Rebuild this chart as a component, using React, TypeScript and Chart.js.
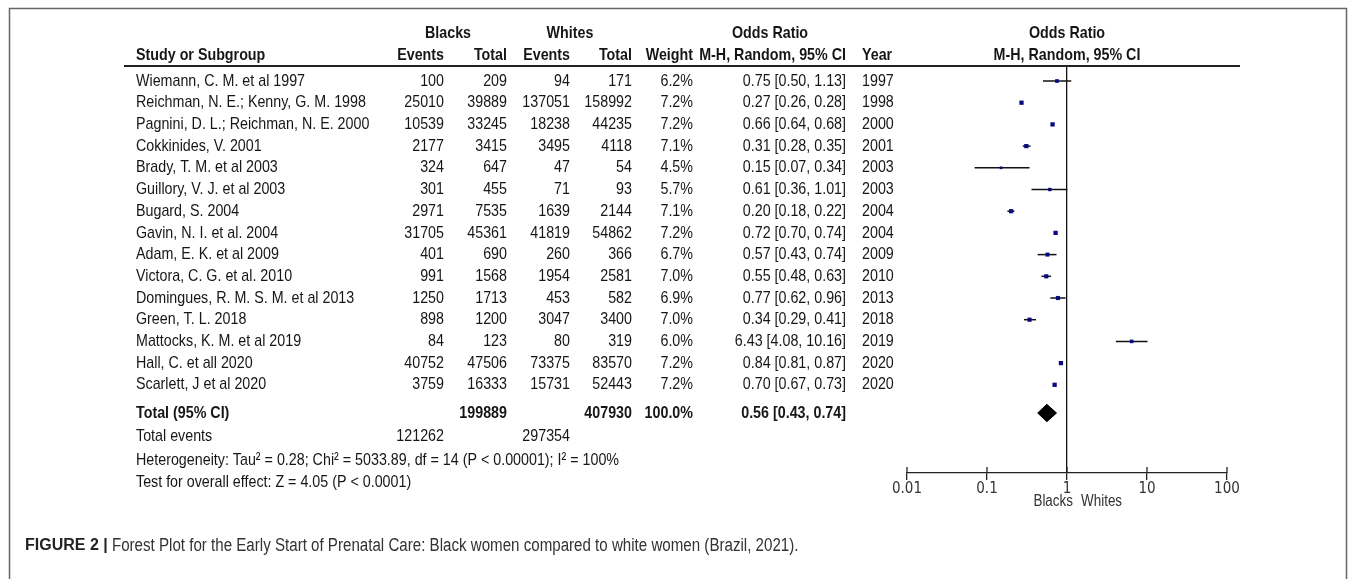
import React, { useEffect, useRef } from "react";
import { Chart, registerables } from "chart.js";

Chart.register(...registerables);

const studies = [
  "Wiemann, C. M. et al 1997",
  "Reichman, N. E.; Kenny, G. M. 1998",
  "Pagnini, D. L.; Reichman, N. E. 2000",
  "Cokkinides, V. 2001",
  "Brady, T. M. et al 2003",
  "Guillory, V. J. et al 2003",
  "Bugard, S. 2004",
  "Gavin, N. I. et al. 2004",
  "Adam, E. K. et al 2009",
  "Victora, C. G. et al. 2010",
  "Domingues, R. M. S. M. et al 2013",
  "Green, T. L. 2018",
  "Mattocks, K. M. et al 2019",
  "Hall, C. et all 2020",
  "Scarlett, J et al 2020",
];
const blackEvents = [100, 25010, 10539, 2177, 324, 301, 2971, 31705, 401, 991, 1250, 898, 84, 40752, 3759];
const blackTotals = [209, 39889, 33245, 3415, 647, 455, 7535, 45361, 690, 1568, 1713, 1200, 123, 47506, 16333];
const whiteEvents = [94, 137051, 18238, 3495, 47, 71, 1639, 41819, 260, 1954, 453, 3047, 80, 73375, 15731];
const whiteTotals = [171, 158992, 44235, 4118, 54, 93, 2144, 54862, 366, 2581, 582, 3400, 319, 83570, 52443];
const weights = [6.2, 7.2, 7.2, 7.1, 4.5, 5.7, 7.1, 7.2, 6.7, 7.0, 6.9, 7.0, 6.0, 7.2, 7.2];
const orEst = [0.75, 0.27, 0.66, 0.31, 0.15, 0.61, 0.2, 0.72, 0.57, 0.55, 0.77, 0.34, 6.43, 0.84, 0.7];
const orLow = [0.5, 0.26, 0.64, 0.28, 0.07, 0.36, 0.18, 0.7, 0.43, 0.48, 0.62, 0.29, 4.08, 0.81, 0.67];
const orHigh = [1.13, 0.28, 0.68, 0.35, 0.34, 1.01, 0.22, 0.74, 0.74, 0.63, 0.96, 0.41, 10.16, 0.87, 0.73];
const years = [1997, 1998, 2000, 2001, 2003, 2003, 2004, 2004, 2009, 2010, 2013, 2018, 2019, 2020, 2020];

const totalSizes = [199889, 407930];
const totalWeight = [100.0];
const totalOR = [0.56, 0.43, 0.74];
const totalEvents = [121262, 297354];
const heterogeneityText = "Heterogeneity: Tau\u00b2 = 0.28; Chi\u00b2 = 5033.89, df = 14 (P < 0.00001); I\u00b2 = 100%";
const overallText = "Test for overall effect: Z = 4.05 (P < 0.0001)";

const tickValues = [0.01, 0.1, 1, 10, 100];
const tickLabels = ["0.01", "0.1", "1", "10", "100"];
const favourLabels = ["Blacks", "Whites"];

const captionBold = "FIGURE 2 |";
const captionText = " Forest Plot for the Early Start of Prenatal Care: Black women compared to white women (Brazil, 2021).";

// layout (pixels)
const W = 1357;
const H = 579;
const ROW_H = 21.7;
const PLOT_TOP = 66;
const PLOT_BOTTOM = 473;
const PLOT_LEFT = 907;
const PLOT_RIGHT = 1227;
const FIRST_ROW = 81;
const Y_MIN = -(FIRST_ROW - PLOT_TOP) / ROW_H;
const Y_MAX = Y_MIN + (PLOT_BOTTOM - PLOT_TOP) / ROW_H;
const TOTAL_ROW = (413 - FIRST_ROW) / ROW_H;
const AXIS_H = 30;

const SANS = '"Liberation Sans", Arial, sans-serif';
const COND = '"DejaVu Sans Condensed", "Liberation Sans", sans-serif';
const SX = 0.84; // horizontal compression to mimic Arial Narrow
const TEXT = "#161616";

const col = {
  name: 136,
  evB: 444,
  totB: 507,
  evW: 570,
  totW: 632,
  weight: 693,
  or: 846,
  year: 862,
};

const fmtCI = (e: number, l: number, h: number) => `${e.toFixed(2)} [${l.toFixed(2)}, ${h.toFixed(2)}]`;

const tablePlugin = {
  id: "forestTable",
  beforeDraw(chart: any) {
    const ctx = chart.ctx;
    ctx.save();
    ctx.fillStyle = "#fff";
    ctx.fillRect(0, 0, W, H);
    ctx.strokeStyle = "#666";
    ctx.lineWidth = 1.5;
    ctx.strokeRect(9.5, 8.5, W - 20, H + 20);
    ctx.restore();
  },
  afterDraw(chart: any) {
    const ctx = chart.ctx;
    const ys = chart.scales.y;
    const xs = chart.scales.x;
    const rowY = (i: number) => ys.getPixelForValue(i);
    ctx.save();
    ctx.textBaseline = "middle";

    const txt = (
      s: string,
      x: number,
      y: number,
      align: CanvasTextAlign,
      bold = false,
      size = 17,
      color = TEXT
    ) => {
      ctx.save();
      ctx.font = `${bold ? "bold " : ""}${size}px ${SANS}`;
      ctx.fillStyle = color;
      ctx.textAlign = align;
      ctx.translate(x, y);
      ctx.scale(SX, 1);
      ctx.fillText(s, 0, 0);
      ctx.restore();
    };

    // headers
    const h1 = 33;
    const h2 = 55;
    txt("Blacks", 448, h1, "center", true);
    txt("Whites", 570, h1, "center", true);
    txt("Odds Ratio", 770, h1, "center", true);
    txt("Odds Ratio", 1067, h1, "center", true);
    txt("Study or Subgroup", col.name, h2, "left", true);
    txt("Events", col.evB, h2, "right", true);
    txt("Total", col.totB, h2, "right", true);
    txt("Events", col.evW, h2, "right", true);
    txt("Total", col.totW, h2, "right", true);
    txt("Weight", col.weight, h2, "right", true);
    txt("M-H, Random, 95% CI", col.or, h2, "right", true);
    txt("Year", col.year, h2, "left", true);
    txt("M-H, Random, 95% CI", 1067, h2, "center", true);

    ctx.strokeStyle = "#222";
    ctx.lineWidth = 2;
    ctx.beginPath();
    ctx.moveTo(124, PLOT_TOP);
    ctx.lineTo(1240, PLOT_TOP);
    ctx.stroke();

    studies.forEach((s, i) => {
      const y = rowY(i);
      txt(s, col.name, y, "left");
      txt(String(blackEvents[i]), col.evB, y, "right");
      txt(String(blackTotals[i]), col.totB, y, "right");
      txt(String(whiteEvents[i]), col.evW, y, "right");
      txt(String(whiteTotals[i]), col.totW, y, "right");
      txt(`${weights[i].toFixed(1)}%`, col.weight, y, "right");
      txt(fmtCI(orEst[i], orLow[i], orHigh[i]), col.or, y, "right");
      txt(String(years[i]), col.year, y, "left");
    });

    const ty = rowY(TOTAL_ROW);
    txt("Total (95% CI)", col.name, ty, "left", true);
    txt(String(totalSizes[0]), col.totB, ty, "right", true);
    txt(String(totalSizes[1]), col.totW, ty, "right", true);
    txt(`${totalWeight[0].toFixed(1)}%`, col.weight, ty, "right", true);
    txt(fmtCI(totalOR[0], totalOR[1], totalOR[2]), col.or, ty, "right", true);

    const ey = 436;
    txt("Total events", col.name, ey, "left");
    txt(String(totalEvents[0]), col.evB, ey, "right");
    txt(String(totalEvents[1]), col.evW, ey, "right");
    txt(heterogeneityText, col.name, 460, "left");
    txt(overallText, col.name, 482, "left");

    // upper halves of axis ticks
    ctx.strokeStyle = "#222";
    ctx.lineWidth = 1.3;
    tickValues.forEach((v) => {
      const x = xs.getPixelForValue(v);
      ctx.beginPath();
      ctx.moveTo(x, chart.chartArea.bottom - 6);
      ctx.lineTo(x, chart.chartArea.bottom);
      ctx.stroke();
    });

    const one = xs.getPixelForValue(1);
    txt(favourLabels[0], one + 6, 502, "right", false, 16, "#333");
    txt(favourLabels[1], one + 14, 502, "left", false, 16, "#333");

    // caption
    ctx.font = `bold 16px ${SANS}`;
    ctx.textAlign = "left";
    ctx.fillStyle = "#222";
    ctx.fillText(captionBold, 25, 546);
    const bw = ctx.measureText(captionBold).width;
    txt(captionText, 25 + bw, 546, "left", false, 18, "#333");

    ctx.restore();
  },
};

export default function App() {
  const ref = useRef<HTMLCanvasElement | null>(null);
  useEffect(() => {
    if (!ref.current) return;
    const ciSets = studies.map((s, i) => ({
      label: s,
      data: [
        { x: orLow[i], y: i },
        { x: orHigh[i], y: i },
      ],
      showLine: true,
      borderColor: "#111",
      borderWidth: 1.5,
      pointRadius: 0,
      order: 2,
    }));
    const chart = new Chart(ref.current, {
      type: "scatter",
      data: {
        datasets: [
          ...ciSets,
          {
            label: "estimates",
            data: orEst.map((v, i) => ({ x: v, y: i })),
            pointStyle: "rect",
            pointRadius: weights.map((w) => w * 0.42),
            backgroundColor: "#0a0a80",
            borderColor: "#0a0a80",
            borderWidth: 0,
            order: 0,
          } as any,
          {
            label: "total",
            data: [
              { x: totalOR[1], y: TOTAL_ROW },
              { x: totalOR[0], y: TOTAL_ROW - 0.4 },
              { x: totalOR[2], y: TOTAL_ROW },
              { x: totalOR[0], y: TOTAL_ROW + 0.4 },
              { x: totalOR[1], y: TOTAL_ROW },
            ],
            showLine: true,
            fill: "shape",
            backgroundColor: "#000",
            borderColor: "#000",
            borderWidth: 1,
            pointRadius: 0,
            order: 1,
          } as any,
        ],
      },
      options: {
        animation: false,
        responsive: false,
        events: [],
        layout: {
          padding: { left: PLOT_LEFT, right: W - PLOT_RIGHT, top: PLOT_TOP, bottom: H - PLOT_BOTTOM - AXIS_H },
        },
        plugins: { legend: { display: false }, tooltip: { enabled: false } },
        scales: {
          x: {
            type: "logarithmic",
            min: 0.01,
            max: 100,
            afterBuildTicks: (scale: any) => {
              scale.ticks = tickValues.map((v) => ({ value: v }));
            },
            afterFit: (scale: any) => {
              scale.height = AXIS_H;
            },
            grid: {
              drawOnChartArea: true,
              color: (c: any) => (c.tick && c.tick.value === 1 ? "#111" : "rgba(0,0,0,0)"),
              lineWidth: 1.3,
              tickColor: "#222",
              tickLength: 7,
            },
            border: { display: true, color: "#222", width: 1.3 },
            ticks: {
              autoSkip: false,
              maxRotation: 0,
              padding: 0,
              color: "#333",
              font: { family: COND, size: 15 },
              callback: (v: any) => {
                const k = tickValues.indexOf(Number(v));
                return k >= 0 ? tickLabels[k] : "";
              },
            },
          },
          y: {
            type: "linear",
            min: Y_MIN,
            max: Y_MAX,
            reverse: true,
            display: false,
          },
        },
      } as any,
      plugins: [tablePlugin],
    });
    return () => chart.destroy();
  }, []);
  return (
    <div style={{ position: "absolute", left: 0, top: 0, width: W, height: H }}>
      <canvas ref={ref} width={W} height={H} style={{ width: W, height: H, display: "block" }} />
    </div>
  );
}
